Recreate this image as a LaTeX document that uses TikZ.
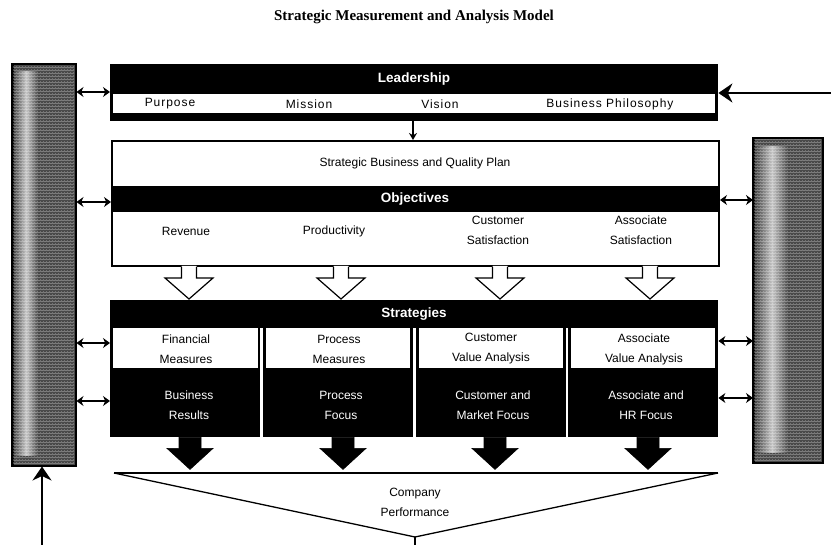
\documentclass[tikz,border=0pt]{standalone}
\usepackage{fontspec}
\setmainfont{Liberation Sans}
\newfontfamily\titlefont{Liberation Serif}
\usetikzlibrary{arrows.meta,patterns}

\begin{document}
\begin{tikzpicture}[x=1pt,y=-1pt,
  body/.style={font=\fontsize{12}{20}\selectfont, align=center, inner sep=0pt},
  spaced/.style={font=\addfontfeature{LetterSpace=8}\fontsize{12}{20}\selectfont},
  head/.style={font=\bfseries\fontsize{13.5}{15}\selectfont, text=white, inner sep=0pt},
  band/.style={fill=black, draw=none, inner sep=0pt, anchor=north west},
  cell/.style={fill=white, draw=none, inner sep=0pt, anchor=north west},
  dbl/.style={{Stealth[length=7pt,width=10pt]}-{Stealth[length=7pt,width=10pt]}, line width=2.6pt},
  bigarrow/.style={-{Stealth[length=14pt,width=19pt]}, line width=2.6pt},
  sidebar/.style={fill=black!72, draw=black, line width=1.5pt, inner sep=0pt, anchor=north west},
  hollowarrow/.pic={
    \fill[white] (-7.5,-1) -- (-7.5,11) -- (-24,11) -- (0,32) -- (24,11) -- (7.5,11) -- (7.5,-1) -- cycle;
    \draw[line width=1.2pt, line join=miter] (-7.5,0) -- (-7.5,11) -- (-24,11) -- (0,32) -- (24,11) -- (7.5,11) -- (7.5,0);
  },
  solidarrow/.pic={
    \filldraw[line width=0.6pt] (-11,0) -- (-11,11) -- (-23,11) -- (0,32) -- (23,11) -- (11,11) -- (11,0) -- cycle;
  },
]
\useasboundingbox (0,0) rectangle (831,545);

% title
\node[font=\titlefont\bfseries\fontsize{15}{17}\selectfont, inner sep=0pt] (title) at (414,17)
  {Strategic Measurement and Analysis Model};

% side bars: dark grainy panels with a paler band down one side
\node[sidebar, minimum width=63pt, minimum height=401pt] (lbar) at (12,64) {};
\node[sidebar, minimum width=69pt, minimum height=324pt] (rbar) at (753,138) {};
\shade[left color=black!72, right color=black!72, middle color=gray!45]
  (14,72) rectangle (38,456);
\shade[left color=black!72, right color=black!72, middle color=gray!45]
  (756,147) rectangle (788,453);
\fill[pattern=crosshatch dots, pattern color=white, opacity=0.3] (13,65) rectangle (74,464);
\fill[pattern=crosshatch dots, pattern color=white, opacity=0.3] (754,139) rectangle (821,461);
\fill[pattern=horizontal lines, pattern color=white, opacity=0.25] (13,65) rectangle (74,464);
\fill[pattern=horizontal lines, pattern color=white, opacity=0.25] (754,139) rectangle (821,461);
\draw[line width=1.5pt] (lbar.north west) rectangle (lbar.south east);
\draw[line width=1.5pt] (rbar.north west) rectangle (rbar.south east);

% leadership block
\node[band, minimum width=608pt, minimum height=57pt] (lead) at (110,64) {};
\node[cell, minimum width=602pt, minimum height=19pt] (leadrow) at (113,94) {};
\node[head] (leadhead) at (414,79) {Leadership};
\node[body, spaced] (purpose) at (170,104) {Purpose};
\node[body, spaced] (mission) at (309,104) {Mission};
\node[body, spaced] (vision) at (440,104) {Vision};
\node[body, spaced] (philosophy) at (610,104) {Business Philosophy};

% plan and objectives block
\node[fill=white, draw=black, line width=2pt, inner sep=0pt, anchor=north west,
  minimum width=607pt, minimum height=125pt] (plan) at (111,140) {};
\node[body] (plantext) at (415,163) {Strategic Business and Quality Plan};
\node[band, minimum width=607pt, minimum height=26pt] (objband) at (111,186) {};
\node[head] (objhead) at (415,199) {Objectives};
\node[body] (revenue) at (186,231) {Revenue};
\node[body] (productivity) at (334,231) {Productivity};
\node[body] (custsat) at (498,230) {Customer\\Satisfaction};
\node[body] (assocsat) at (641,230) {Associate\\Satisfaction};

\draw[-{Stealth[length=7pt,width=8pt]}, line width=1.5pt]
  (413,0 |- lead.south) -- (413,0 |- plan.north);

% objectives feeding the strategies
\pic at (189,0 |- plan.south) {hollowarrow};
\pic at (341,0 |- plan.south) {hollowarrow};
\pic at (500,0 |- plan.south) {hollowarrow};
\pic at (650,0 |- plan.south) {hollowarrow};

% strategies block
\node[band, minimum width=608pt, minimum height=28pt] (strat) at (110,300) {};
\node[head] (strathead) at (414,314) {Strategies};

\node[band, minimum width=150pt, minimum height=109pt] (colA) at (110,328) {};
\node[band, minimum width=150pt, minimum height=109pt] (colB) at (262.7,328) {};
\node[band, minimum width=150pt, minimum height=109pt] (colC) at (415.3,328) {};
\node[band, minimum width=150pt, minimum height=109pt] (colD) at (568,328) {};
\node[cell, minimum width=145pt, minimum height=40pt] (cellA) at (113,328) {};
\node[cell, minimum width=144pt, minimum height=40pt] (cellB) at (265.7,328) {};
\node[cell, minimum width=144pt, minimum height=40pt] (cellC) at (418.3,328) {};
\node[cell, minimum width=144pt, minimum height=40pt] (cellD) at (571,328) {};

\node[body] (finmeas) at (186,349) {Financial\\Measures};
\node[body] (procmeas) at (339,349) {Process\\Measures};
\node[body] (custval) at (491,349) {Customer\\Value Analysis};
\node[body] (assocval) at (644,349) {Associate\\Value Analysis};

\node[body, text=white] (busres) at (189,405) {Business\\Results};
\node[body, text=white] (procfocus) at (341,405) {Process\\Focus};
\node[body, text=white] (custfocus) at (493,405) {Customer and\\Market Focus};
\node[body, text=white] (hrfocus) at (646,405) {Associate and\\HR Focus};

% strategies driving company performance
\pic at (190,0 |- colA.south) {solidarrow};
\pic at (343,0 |- colB.south) {solidarrow};
\pic at (495,0 |- colC.south) {solidarrow};
\pic at (648,0 |- colD.south) {solidarrow};

% performance funnel
\coordinate (fleft) at (114,473);
\coordinate (fright) at (718,473);
\coordinate (ftip) at (415,537);
\coordinate (fout) at (415,545);
\draw[line width=1.5pt] (fleft) -- (fright);
\draw[line width=1.3pt, line join=round] (fleft) -- (ftip) -- (fright);
\draw[line width=1.5pt] (ftip) -- (fout);
\node[body] (perf) at (415,502) {Company\\Performance};

% links between the side bars and the blocks
\draw[dbl] (lbar.east |- 0,92) -- (lead.west |- 0,92);
\draw[dbl] (lbar.east |- 0,202) -- (objband.west |- 0,202);
\draw[dbl] (lbar.east |- 0,343) -- (colA.west |- 0,343);
\draw[dbl] (lbar.east |- 0,401) -- (colA.west |- 0,401);
\draw[dbl] (plan.east |- 0,200) -- (rbar.west |- 0,200);
\draw[dbl] (colD.east |- 0,341) -- (rbar.west |- 0,341);
\draw[dbl] (colD.east |- 0,398) -- (rbar.west |- 0,398);

% external inputs
\coordinate (rin) at (831,93);
\coordinate (lin) at (42,545);
\draw[bigarrow] (rin) -- (lead.east |- rin);
\draw[bigarrow] (lin) -- (lin |- lbar.south);
\end{tikzpicture}
\end{document}
